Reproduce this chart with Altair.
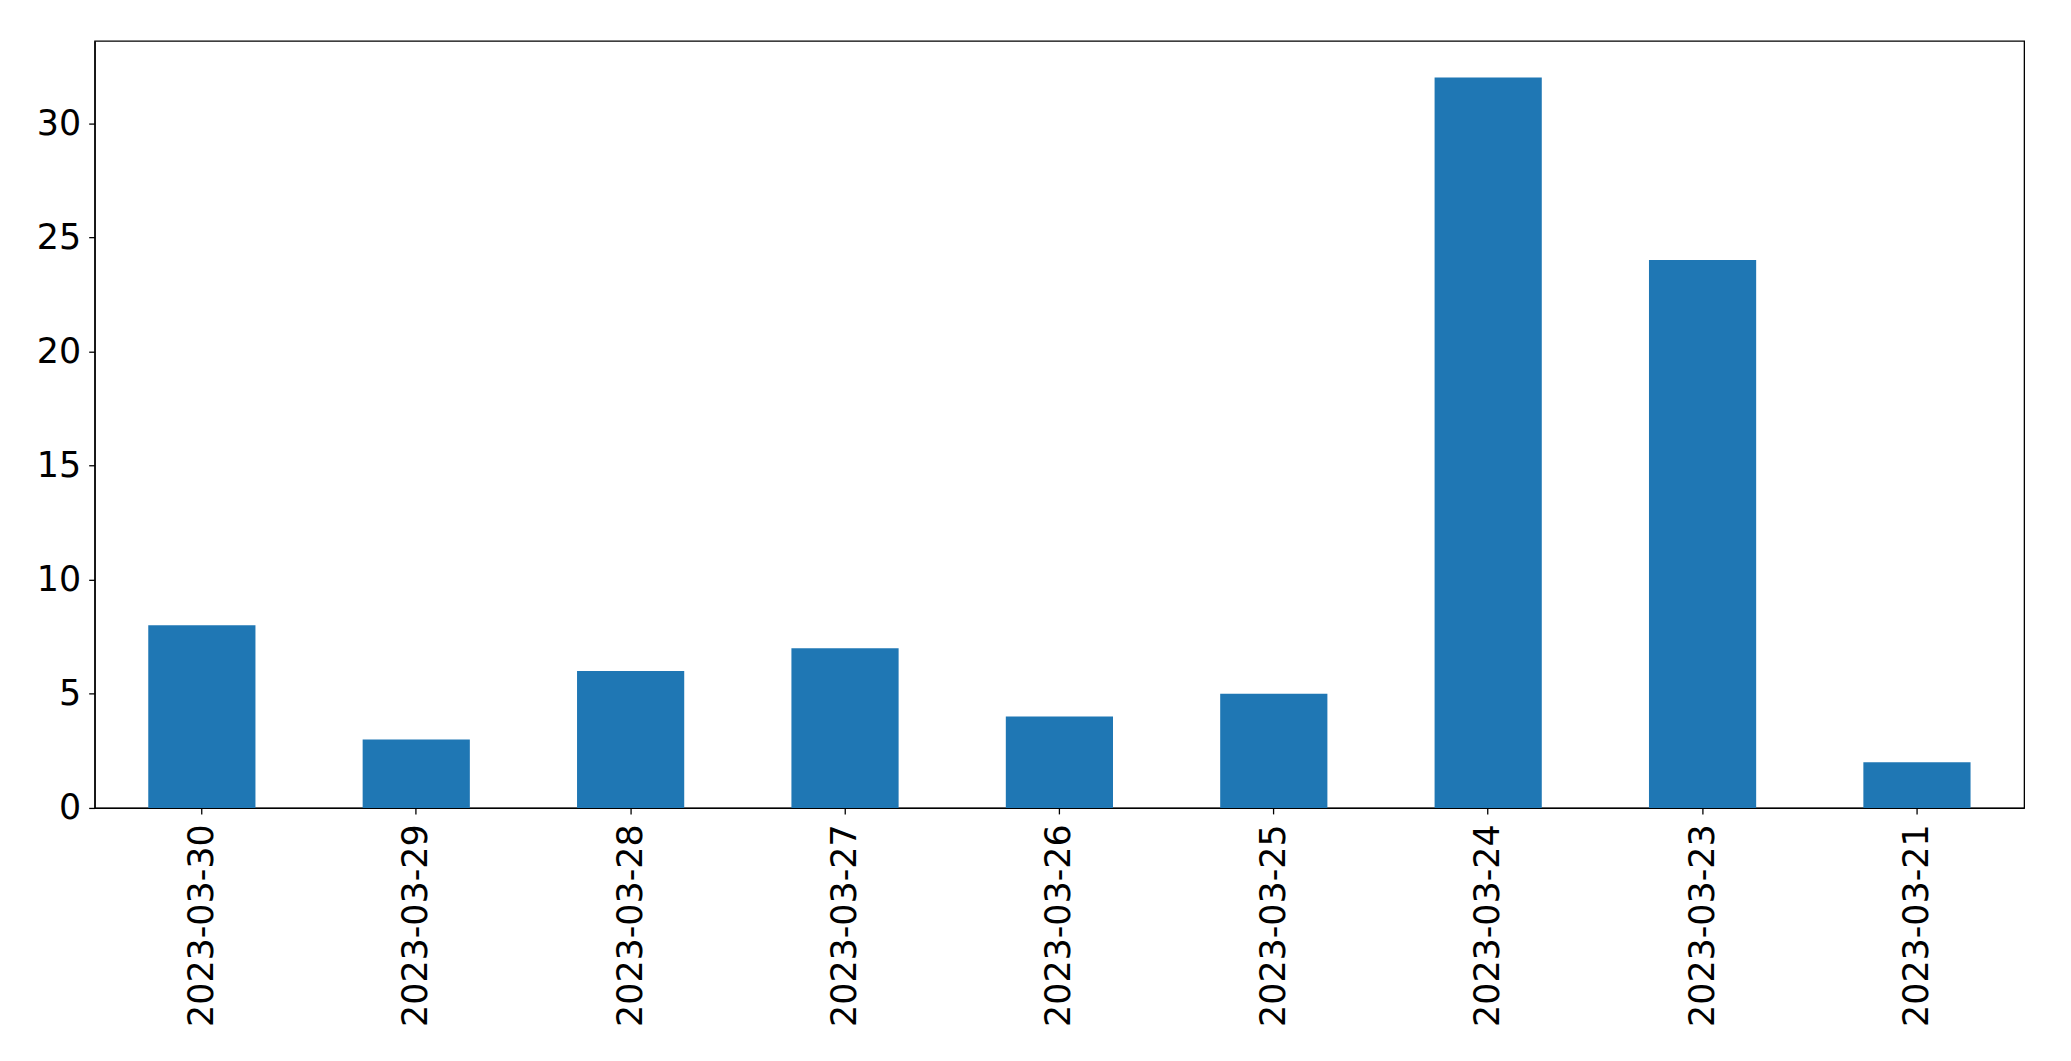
import altair as alt
import pandas as pd

dates = ["2023-03-30", "2023-03-29", "2023-03-28", "2023-03-27", "2023-03-26",
         "2023-03-25", "2023-03-24", "2023-03-23", "2023-03-21"]
counts = [8, 3, 6, 7, 4, 5, 32, 24, 2]

df = pd.DataFrame({"date": dates, "count": counts})

chart = alt.Chart(df).mark_bar(color="#1f77b4").encode(
    x=alt.X("date:N", sort=dates, title=None,
            scale=alt.Scale(paddingInner=0.5, paddingOuter=0.25),
            axis=alt.Axis(labelAngle=270, labelAlign="right", labelBaseline="middle",
                          labelPadding=10, labelLimit=0, tickSize=6, tickWidth=1.3,
                          tickColor="black", domainColor="black", domainWidth=1.3)),
    y=alt.Y("count:Q", title=None,
            scale=alt.Scale(domain=[0, 33.6], nice=False, zero=True),
            axis=alt.Axis(values=[0, 5, 10, 15, 20, 25, 30], grid=False, labelPadding=8,
                          tickSize=6, tickWidth=1.3, tickColor="black",
                          domainColor="black", domainWidth=1.3)),
).properties(
    width=1937, height=770,
    autosize=alt.AutoSizeParams(type="none"),
    padding={"left": 87, "top": 31, "right": 39, "bottom": 250},
).configure_axis(
    labelFont="DejaVu Sans", labelFontSize=35, labelColor="black", grid=False,
).configure_view(
    stroke="black", strokeWidth=1.3,
)

chart.save("out.html", embed_options={"renderer": "svg", "actions": False})
